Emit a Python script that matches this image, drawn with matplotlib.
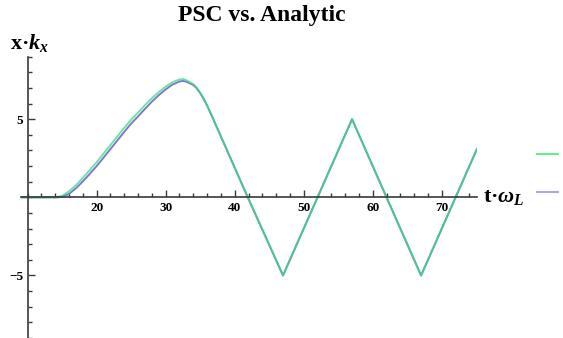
import matplotlib
matplotlib.use("Agg")
import matplotlib.pyplot as plt
from matplotlib.lines import Line2D
from matplotlib.ticker import MultipleLocator, FixedLocator

plt.rcParams['font.family'] = ['Liberation Serif', 'DejaVu Serif']
plt.rcParams['mathtext.fontset'] = 'custom'
plt.rcParams['mathtext.rm'] = 'Liberation Serif:bold'
plt.rcParams['mathtext.it'] = 'Liberation Serif:bold:italic'
plt.rcParams['mathtext.bf'] = 'Liberation Serif:bold'

# time in units of 1/omega_L
t_psc = [9, 13, 14, 15, 16, 17, 18, 19, 20, 21, 22, 23, 24, 25, 26, 27, 28,
         29, 30, 31, 32, 32.5, 33, 34, 34.5, 35, 35.5, 36, 36.5, 41.9, 47, 57, 67, 75.1]
x_psc = [0, 0, 0, 0.1, 0.38, 0.78, 1.24, 1.74, 2.25, 2.8, 3.35, 3.9, 4.45, 4.97, 5.43,
         5.9, 6.34, 6.74, 7.08, 7.37, 7.54, 7.57, 7.5, 7.24, 7.01, 6.69, 6.31, 5.88, 5.4,
         0, -5, 5, -5, 3.1]

t_ana = [9, 13, 14.3, 15, 16, 17, 18, 19, 20, 21, 22, 23, 24, 25, 26, 27, 28,
         29, 30, 31, 32, 32.5, 33, 34, 34.5, 35, 35.5, 36, 36.5, 41.9, 47, 57, 67, 75.1]
x_ana = [0, 0, 0, 0.03, 0.22, 0.58, 1.02, 1.5, 2.0, 2.54, 3.09, 3.64, 4.19, 4.72, 5.18,
         5.66, 6.12, 6.54, 6.91, 7.22, 7.41, 7.45, 7.4, 7.19, 6.98, 6.67, 6.3, 5.88, 5.4,
         0, -5, 5, -5, 3.1]

green = '#3edb85'
purple = '#7b7bcc'

fig = plt.figure(figsize=(5.63, 3.38), dpi=100)
ax = fig.add_axes([20.7 / 563, 0.0, (477 - 20.7) / 563, (338 - 56.7) / 338])

ax.plot(t_ana, x_ana, color=purple, lw=1.4)
ax.plot(t_psc, x_psc, color=green, lw=1.4, alpha=0.75)

ax.set_xlim(9, 75.1)
ax.set_ylim(-9, 9)

for s in ['top', 'right']:
    ax.spines[s].set_visible(False)
ax.spines['left'].set_position(('data', 10))
ax.spines['bottom'].set_position(('data', 0))
for s in ['left', 'bottom']:
    ax.spines[s].set_color('#3a3a3a')
    ax.spines[s].set_linewidth(1.2)

ax.xaxis.set_major_locator(FixedLocator([20, 30, 40, 50, 60, 70]))
ax.xaxis.set_minor_locator(MultipleLocator(2))
ax.yaxis.set_major_locator(FixedLocator([-5, 5]))
ax.yaxis.set_minor_locator(MultipleLocator(1))
ax.tick_params(which='both', direction='in', color='#3a3a3a', width=1.0)
ax.tick_params(which='major', length=5, labelsize=9.5, pad=3)
ax.tick_params(which='minor', length=3)
for lab in ax.get_xticklabels() + ax.get_yticklabels():
    lab.set_fontweight('bold')

fig.text(0.465, 0.955, 'PSC vs. Analytic', ha='center', va='center',
         fontsize=17, fontweight='bold')
fig.text(0.018, 0.872, 'x·$k_x$', ha='left', va='center', fontsize=16,
         fontweight='bold')
fig.text(0.858, 0.418, 't·$\\omega_L$', ha='left', va='center', fontsize=16,
         fontweight='bold')

# legend swatches without text
for yy, c in [(154.3, '#66ee8c'), (192.3, '#a9a9e2')]:
    fig.add_artist(Line2D([536.7 / 563, 557.7 / 563], [1 - yy / 338] * 2,
                          transform=fig.transFigure, color=c, lw=1.5))

fig.savefig('out.png', dpi=100)
